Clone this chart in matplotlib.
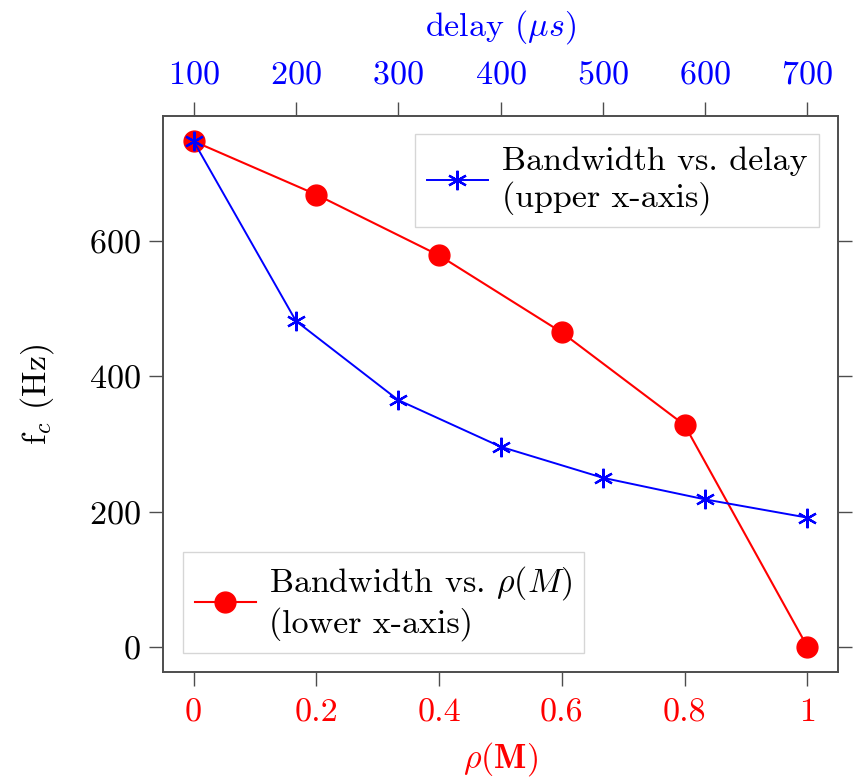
import numpy as np
import matplotlib
matplotlib.use("Agg")
import matplotlib.pyplot as plt

# lower x-axis: rho(M) -> bandwidth
rho = [0.0, 0.2, 0.4, 0.6, 0.8, 1.0]
fc_rho = [748, 669, 579, 465, 328, 0]

# upper x-axis: delay (us) -> bandwidth
delay = [100, 200, 300, 400, 500, 600, 700]
fc_delay = [748, 482, 365, 296, 250, 218, 191]

plt.rcParams['font.family'] = 'serif'
plt.rcParams['font.serif'] = ['cmr10', 'DejaVu Serif']
plt.rcParams['mathtext.fontset'] = 'cm'
plt.rcParams['axes.formatter.use_mathtext'] = True

FS = 24.5
red = '#ff0000'
blue = '#0000ff'
spine_col = '0.3'

fig = plt.figure(figsize=(8.56, 7.82), dpi=100)
ax = fig.add_axes([0.1904, 0.1407, 0.7886, 0.7110])

l1, = ax.plot(rho, fc_rho, color=red, lw=1.5, marker='o', ms=15,
              label='Bandwidth vs. $\\rho(M)$\n(lower x-axis)')
ax.set_xlim(-0.05, 1.05)
ylo, yhi = 0, 748
pad = 0.05 * (yhi - ylo)
ax.set_ylim(ylo - pad, yhi + pad)
ax.set_xticks([0, 0.2, 0.4, 0.6, 0.8, 1.0])
ax.set_xticklabels(['0', '0.2', '0.4', '0.6', '0.8', '1'])
ax.set_yticks([0, 200, 400, 600])
ax.tick_params(axis='both', direction='out', length=10, width=1,
               color=spine_col, labelsize=FS, top=True, right=True, pad=6)
ax.tick_params(axis='x', labelcolor=red, pad=9)
ax.set_xlabel('$\\rho(\\mathbf{M})$', color=red, fontsize=FS, labelpad=9)
ax.set_ylabel('f$_c$ (Hz)', fontsize=FS, labelpad=24)

ax2 = ax.twiny()
l2, = ax2.plot(delay, fc_delay, color=blue, lw=1.4, marker=(6, 2, 0), ms=14,
               mew=1.6, label='Bandwidth vs. delay\n(upper x-axis)')
ax2.set_xlim(100 - 0.05 * 600, 700 + 0.05 * 600)
ax2.set_xticks(delay)
ax2.tick_params(axis='x', direction='out', length=10, width=1, color=spine_col,
                labelsize=FS, labelcolor=blue, pad=9)
ax2.set_xlabel('delay ($\\mu s$)', color=blue, fontsize=FS, labelpad=18)

for a in (ax, ax2):
    for s in a.spines.values():
        s.set_color(spine_col)
        s.set_linewidth(1.2)

leg1 = ax2.legend(handles=[l2], loc='upper right', fontsize=FS,
                  frameon=True, fancybox=False, edgecolor='0.8',
                  handlelength=1.8, handletextpad=0.4, borderpad=0.35,
                  labelspacing=0.2, bbox_to_anchor=(0.997, 0.998))
leg1.get_frame().set_linewidth(1.0)
leg2 = ax2.legend(handles=[l1], loc='lower left', fontsize=FS,
                  frameon=True, fancybox=False, edgecolor='0.8',
                  handlelength=1.8, handletextpad=0.4, borderpad=0.35,
                  labelspacing=0.2, bbox_to_anchor=(0.004, 0.004))
leg2.get_frame().set_linewidth(1.0)
ax2.add_artist(leg1)

fig.savefig('out.png', dpi=100)
